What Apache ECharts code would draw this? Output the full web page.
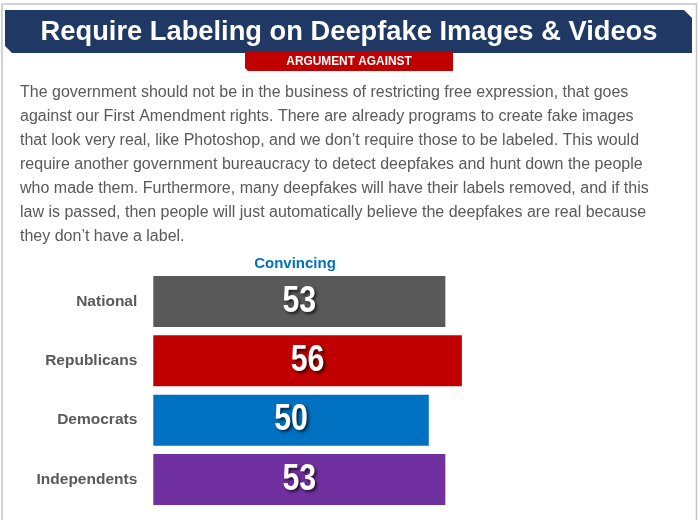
<!DOCTYPE html>
<html>
<head>
<meta charset="utf-8">
<script src="https://cdn.jsdelivr.net/npm/echarts@6/dist/echarts.min.js"></script>
<style>
  html, body { margin: 0; padding: 0; background: #ffffff; }
  #chart { width: 698px; height: 520px; }
</style>
</head>
<body>
<div id="chart"></div>
<script>
// Poll results: share who found the argument convincing
const categories = ['National', 'Republicans', 'Democrats', 'Independents'];
const convincing = [53, 56, 50, 53];
const barColors = ['#595959', '#C00000', '#0070C0', '#7030A0'];

const headline = 'Require Labeling on Deepfake Images & Videos';
const sideTag = 'ARGUMENT AGAINST';
const seriesName = 'Convincing';
const argumentLines = [
  'The government should not be in the business of restricting free expression, that goes',
  'against our First Amendment rights. There are already programs to create fake images',
  'that look very real, like Photoshop, and we don\u2019t require those to be labeled. This would',
  'require another government bureaucracy to detect deepfakes and hunt down the people',
  'who made them. Furthermore, many deepfakes will have their labels removed, and if this',
  'law is passed, then people will just automatically believe the deepfakes are real because',
  'they don\u2019t have a label.'
];

const chart = echarts.init(document.getElementById('chart'), null, { renderer: 'canvas' });

const sansFont = '"Liberation Sans", Arial, sans-serif';

// Value labels: heavy digits squeezed horizontally, centred on each bar
function renderValueLabel(params, api) {
  const v = api.value(0);
  const cat = api.value(1);
  const start = api.coord([0, cat]);
  const end = api.coord([v, cat]);
  return {
    type: 'text',
    x: (start[0] + end[0]) / 2,
    y: start[1],
    scaleX: 0.82,
    style: {
      text: String(v),
      fill: '#ffffff',
      font: 'bold 37px ' + sansFont,
      align: 'center',
      verticalAlign: 'middle',
      textShadowColor: 'rgba(0,0,0,0.65)',
      textShadowBlur: 3,
      textShadowOffsetX: 2,
      textShadowOffsetY: 2
    }
  };
}

chart.setOption({
  animation: false,
  backgroundColor: '#ffffff',
  title: {
    text: seriesName,
    left: 290,
    top: 251,
    textAlign: 'center',
    textStyle: { color: '#0070C0', fontFamily: sansFont, fontWeight: 'bold', fontSize: 15 }
  },
  grid: { left: 153.3, right: 103.9, top: 271.75, bottom: 10.75, containLabel: false },
  xAxis: {
    type: 'value', min: 0, max: 80, show: false
  },
  yAxis: {
    type: 'category',
    data: categories,
    inverse: true,
    axisLine: { show: false },
    axisTick: { show: false },
    splitLine: { show: false },
    axisLabel: {
      margin: 16,
      color: '#595959',
      fontFamily: sansFont,
      fontWeight: 'bold',
      fontSize: 15.5
    }
  },
  series: [
    {
      name: seriesName,
      type: 'bar',
      barWidth: 51,
      data: convincing.map((v, i) => ({ value: v, itemStyle: { color: barColors[i] } })),
      label: { show: false }
    },
    {
      name: seriesName + ' labels',
      type: 'custom',
      renderItem: renderValueLabel,
      encode: { x: 0, y: 1 },
      data: convincing.map((v, i) => [v, i]),
      z: 5
    }
  ],
  graphic: [
    {
      type: 'rect',
      shape: { x: 2, y: 4, width: 694.5, height: 530 },
      style: { fill: 'none', stroke: '#C4C4C4', lineWidth: 1.5 },
      z: 0
    },
    {
      type: 'polygon',
      shape: { points: [[5, 10], [684, 10], [692, 18], [692, 53], [12, 53], [5, 46]] },
      style: { fill: '#1F3864' },
      z: 1
    },
    {
      type: 'text',
      x: 349, y: 32.5,
      style: {
        text: headline, fill: '#ffffff', fontFamily: sansFont, fontWeight: 'bold', fontSize: 27.3,
        align: 'center', verticalAlign: 'middle'
      },
      z: 2
    },
    {
      type: 'polygon',
      shape: { points: [[245, 51], [453, 51], [453, 71], [248, 71], [245, 68]] },
      style: { fill: '#C00000' },
      z: 2
    },
    {
      type: 'text',
      x: 349, y: 61.5,
      scaleX: 0.88,
      style: {
        text: sideTag, fill: '#ffffff', fontFamily: sansFont, fontWeight: 'bold', fontSize: 13.5,
        align: 'center', verticalAlign: 'middle'
      },
      z: 3
    },
    {
      type: 'text',
      x: 20, y: 81,
      style: {
        text: argumentLines.join('\n'), fill: '#595959', fontFamily: sansFont, fontSize: 16,
        lineHeight: 24, align: 'left', verticalAlign: 'top'
      },
      z: 2
    }
  ]
});
</script>
</body>
</html>
